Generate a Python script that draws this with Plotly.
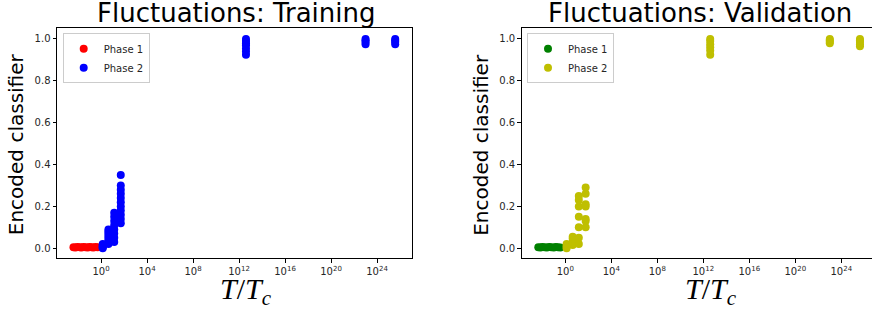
import plotly.graph_objects as go

# ---------------- data ----------------
# Training
train_p1_T = [0.004, 0.006, 0.009, 0.014, 0.02, 0.03, 0.045, 0.07, 0.1, 0.15, 0.22, 0.33, 0.5]
train_p1_y = [0.005, 0.004, 0.006, 0.005, 0.004, 0.006, 0.005, 0.004, 0.006, 0.005, 0.004, 0.006, 0.005]

train_p2_T = ([1.4] * 5 + [4.4] * 8 + [14] * 8 + [52] * 11 +
              [4e12] * 7 + [1e23] * 4 + [3.8e25] * 4)
train_p2_y = ([0.0, 0.005, 0.01, 0.015, 0.02] +
              [0.02, 0.03, 0.04, 0.05, 0.06, 0.07, 0.08, 0.09] +
              [0.03, 0.05, 0.07, 0.09, 0.11, 0.13, 0.15, 0.17] +
              [0.12, 0.14, 0.16, 0.18, 0.2, 0.22, 0.24, 0.26, 0.28, 0.3, 0.35] +
              [0.925, 0.94, 0.955, 0.97, 0.98, 0.99, 1.0] +
              [0.975, 0.985, 0.993, 1.0] +
              [0.975, 0.985, 0.993, 1.0])

# Validation
val_p1_T = [0.0045, 0.007, 0.01, 0.016, 0.025, 0.04, 0.06, 0.1, 0.15, 0.23, 0.37]
val_p1_y = [0.005, 0.004, 0.006, 0.005, 0.004, 0.006, 0.005, 0.004, 0.006, 0.005, 0.004]

val_p2_T = ([1.3] * 3 + [4.4] * 4 + [15] * 7 + [59] * 7 +
            [4e12] * 6 + [1e23] * 4 + [4.2e25] * 5)
val_p2_y = ([0.0, 0.01, 0.02] +
            [0.015, 0.03, 0.045, 0.055] +
            [0.02, 0.05, 0.1, 0.15, 0.2, 0.23, 0.25] +
            [0.1, 0.13, 0.14, 0.2, 0.21, 0.26, 0.29] +
            [0.925, 0.945, 0.96, 0.975, 0.99, 1.0] +
            [0.98, 0.987, 0.994, 1.0] +
            [0.965, 0.975, 0.985, 0.993, 1.0])

x_tick_vals = [1, 1e4, 1e8, 1e12, 1e16, 1e20, 1e24]
x_tick_text = ["10<sup>0</sup>", "10<sup>4</sup>", "10<sup>8</sup>", "10<sup>12</sup>",
               "10<sup>16</sup>", "10<sup>20</sup>", "10<sup>24</sup>"]
y_tick_vals = [0.0, 0.2, 0.4, 0.6, 0.8, 1.0]

titles = ["Fluctuations: Training", "Fluctuations: Validation"]

# ---------------- figure ----------------
W, H = 872, 313

def px(x):
    return x / W

def py(y):
    return 1 - y / H

fig = go.Figure()

MS = 8

def add(xs, ys, color, name, xa, ya, legend):
    fig.add_trace(go.Scatter(x=xs, y=ys, mode="markers", name=name,
                             marker=dict(color=color, size=MS, line=dict(width=0)),
                             xaxis=xa, yaxis=ya, legend=legend))

add(train_p1_T, train_p1_y, "#ff0000", "Phase 1", "x", "y", "legend")
add(train_p2_T, train_p2_y, "#0000ff", "Phase 2", "x", "y", "legend")
add(val_p1_T, val_p1_y, "#008000", "Phase 1", "x2", "y2", "legend2")
add(val_p2_T, val_p2_y, "#bfbf00", "Phase 2", "x2", "y2", "legend2")

ydom = [py(258.3), py(28.3)]
tickfont = dict(family="DejaVu Sans", size=10, color="#262626")

def xaxis(dom, rng):
    return dict(domain=dom, type="log", range=rng, tickvals=x_tick_vals, ticktext=x_tick_text,
                showline=True, linecolor="black", linewidth=1, mirror=True,
                ticks="outside", ticklen=3.5, tickcolor="black", tickwidth=1,
                showgrid=False, zeroline=False, tickfont=tickfont)

def yaxis(anchor, mirror):
    return dict(domain=ydom, range=[-0.048, 1.051], tickvals=y_tick_vals, tickformat=".1f",
                showline=True, linecolor="black", linewidth=1, mirror=mirror,
                ticks="outside", ticklen=3.5, tickcolor="black", tickwidth=1,
                showgrid=False, zeroline=False, tickfont=tickfont, anchor=anchor)

legend_common = dict(bgcolor="white", bordercolor="#cccccc", borderwidth=1,
                     font=dict(family="DejaVu Sans", size=10, color="#262626"),
                     xanchor="left", yanchor="top", tracegroupgap=0)

fig.update_layout(
    width=W, height=H,
    margin=dict(l=0, r=0, t=0, b=0),
    paper_bgcolor="white", plot_bgcolor="white",
    xaxis=dict(xaxis([px(57), px(412)], [-3.83, 27.04]), anchor="y"),
    yaxis=yaxis("x", True),
    xaxis2=dict(xaxis([px(521.7), 1.0], [-3.79, 26.67]), anchor="y2"),
    yaxis2=yaxis("x2", False),
    legend=dict(legend_common, x=px(62.7), y=py(33.3)),
    legend2=dict(legend_common, x=px(527), y=py(33.3)),
    showlegend=True,
)

ann = []
for txt, cx in zip(titles, [236, 699.5]):
    ann.append(dict(text=txt, x=px(cx), y=py(28.3), xref="paper", yref="paper",
                    xanchor="center", yanchor="bottom", showarrow=False, yshift=-1.5,
                    font=dict(family="DejaVu Sans", size=26, color="black")))
for cx in [16.7, 481.3]:
    ann.append(dict(text="Encoded classifier", x=px(cx), y=py(144.5), xref="paper", yref="paper",
                    xanchor="center", yanchor="middle", showarrow=False, textangle=-90,
                    font=dict(family="DejaVu Sans", size=20, color="black")))
for cx in [246, 711]:
    ann.append(dict(text="<i>T</i>/<i>T</i><sub><i>c</i></sub>", x=px(cx), y=py(291),
                    xref="paper", yref="paper", xanchor="center", yanchor="middle", showarrow=False,
                    font=dict(family="Liberation Serif", size=30, color="black")))
fig.update_layout(annotations=ann)

# remove the default page margin so the figure sits at the window's top-left corner
fig.write_html("out.html",
               config={"displayModeBar": False},
               post_script="document.body.style.margin='0';document.body.style.overflow='hidden';")
